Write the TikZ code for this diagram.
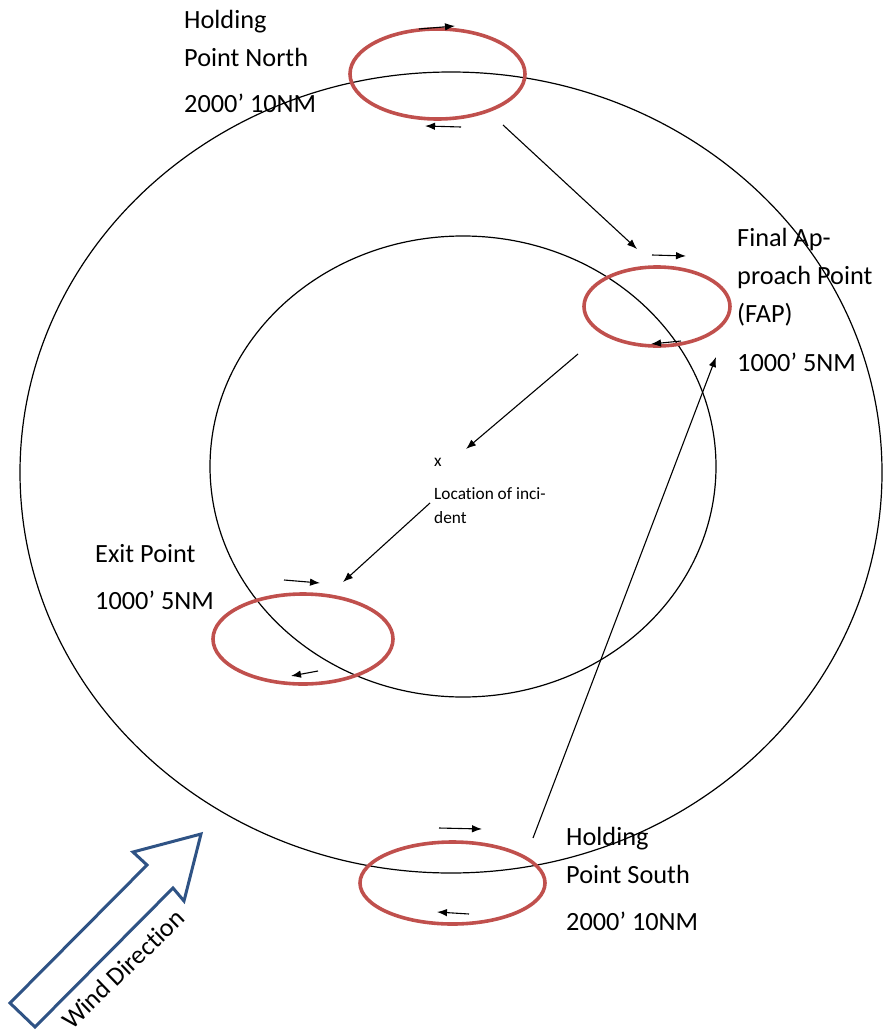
\documentclass[tikz,border=0pt]{standalone}
\usepackage{fontspec}
\setmainfont{Carlito}[Ligatures=NoCommon]
\usetikzlibrary{shapes.geometric,arrows.meta}
\definecolor{holdred}{HTML}{C0504D}
\definecolor{windblue}{HTML}{2F5385}
\tikzset{
  ring/.style={draw=black, line width=1.2pt, ellipse, inner sep=0pt, outer sep=0pt},
  hold/.style={draw=holdred, line width=3.6pt, ellipse, inner sep=0pt, outer sep=0pt},
  flow/.style={draw=black, line width=1.1pt, -{Latex[length=10pt,width=7.5pt]}},
  lbl/.style={anchor=base west, align=left, inner sep=0pt, font=\fontsize{26.3}{38}\selectfont},
  small/.style={anchor=base west, align=left, inner sep=0pt, font=\fontsize{17.3}{24}\selectfont}
}
\begin{document}
\begin{tikzpicture}[x=1pt,y=-1pt]
\useasboundingbox (0,0) rectangle (883,1035);
% range rings
\node[ring, minimum width=862pt, minimum height=801pt] (outer) at (451,472.5) {};
\node[ring, minimum width=506pt, minimum height=461pt] (inner) at (463,466.5) {};
% holding patterns
\node[hold, minimum width=175pt, minimum height=90pt] (north) at (437.5,74) {};
\node[hold, minimum width=146pt, minimum height=79pt] (fap) at (657,306.5) {};
\node[hold, minimum width=180pt, minimum height=90pt] (exit) at (303,639) {};
\node[hold, minimum width=185pt, minimum height=82pt] (south) at (452.5,883) {};
% labels (anchored at the baseline of their last line)
\node[lbl] (lnorth) at (184,113) {Holding\\Point North\\[8pt]2000’ 10NM};
\node[lbl] (lfap) at (737,371) {Final Ap-\\proach Point\\(FAP)\\[11pt]1000’ 5NM};
\node[lbl] (lexit) at (95,609) {Exit Point\\[9pt]1000’ 5NM};
\node[lbl] (lsouth) at (566,930) {Holding\\Point South\\[9pt]2000’ 10NM};
\node[small] (xmark) at (434,466) {x};
\node[small] (loc) at (434,523) {Location of inci-\\dent};
% connector end points
\coordinate (n1a) at (419,29);  \coordinate (n1b) at (455,26);
\coordinate (n2a) at (461,127); \coordinate (n2b) at (425,126);
\coordinate (nfa) at (503,125); \coordinate (nfb) at (637,249);
\coordinate (f1a) at (652,255); \coordinate (f1b) at (686,256);
\coordinate (f2a) at (681,341); \coordinate (f2b) at (651,344);
\coordinate (fxa) at (578,354); \coordinate (fxb) at (466,449);
\coordinate (sfa) at (533,838); \coordinate (sfb) at (716,357);
\coordinate (lea) at (430,503); \coordinate (leb) at (343,582);
\coordinate (e1a) at (284,580); \coordinate (e1b) at (320,583);
\coordinate (e2a) at (318,671); \coordinate (e2b) at (291,676);
\coordinate (s1a) at (439,828); \coordinate (s1b) at (482,829);
\coordinate (s2a) at (469,914); \coordinate (s2b) at (437,912);
\draw[flow] (n1a) -- (n1b);
\draw[flow] (n2a) -- (n2b);
\draw[flow] (nfa) -- (nfb);
\draw[flow] (f1a) -- (f1b);
\draw[flow] (f2a) -- (f2b);
\draw[flow] (fxa) -- (fxb);
\draw[flow] (sfa) -- (sfb);
\draw[flow] (lea) -- (leb);
\draw[flow] (e1a) -- (e1b);
\draw[flow] (e2a) -- (e2b);
\draw[flow] (s1a) -- (s1b);
\draw[flow] (s2a) -- (s2b);
% wind arrow
\draw[windblue, line width=3pt, line join=miter, fill=white]
  (10,1003) -- (147,865) -- (133,852) -- (201,834) -- (184,901) -- (173,888) -- (35,1027) -- cycle;
\node[rotate=44, inner sep=0pt, font=\fontsize{26}{30}\selectfont] (wind) at (123,969) {Wind Direction};
\end{tikzpicture}
\end{document}
